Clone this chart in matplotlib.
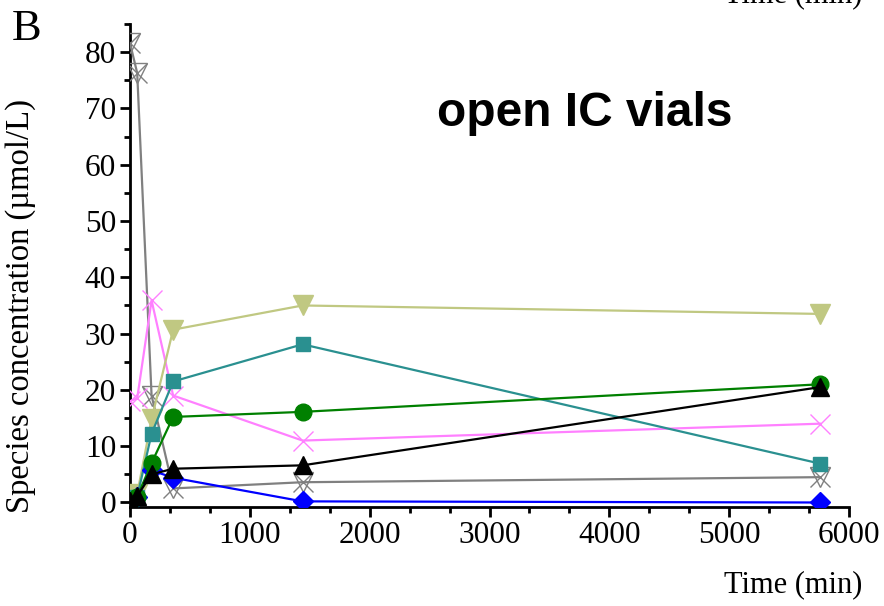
import matplotlib
matplotlib.use("Agg")
import matplotlib.pyplot as plt
from matplotlib.ticker import MultipleLocator

time_min = [0, 60, 180, 360, 1440, 5760]
gray_star = [81.6, 76.3, 19.0, 2.5, 3.6, 4.5]
khaki_tri_down = [0.5, 1.5, 14.8, 30.7, 35.0, 33.5]
teal_square = [0.0, 1.0, 12.2, 21.5, 28.1, 6.9]
green_circle = [0.0, 1.0, 7.0, 15.2, 16.1, 21.0]
pink_x = [18.0, 18.5, 35.9, 19.0, 11.0, 14.0]
blue_diamond = [0.0, 1.0, 5.7, 4.4, 0.2, 0.0]
black_tri_up = [0.3, 1.2, 5.0, 6.0, 6.6, 20.5]

xticks = [0, 1000, 2000, 3000, 4000, 5000, 6000]
yticks = [0, 10, 20, 30, 40, 50, 60, 70, 80]

serif = ["Liberation Serif", "DejaVu Serif"]
plt.rcParams["font.family"] = serif

fig = plt.figure(figsize=(8.84, 6.06), dpi=100)
ax = fig.add_axes([130 / 884, 99 / 606, (849 - 130) / 884, (507 - 24) / 606])

lw = 1.6
# gray: x + open triangle-down combined
ax.plot(time_min, gray_star, color="#808080", lw=lw, marker="x", ms=14, mew=1.0, zorder=3)
ax.plot(time_min, gray_star, color="#808080", lw=0, marker="v", ms=14, mfc="none", mew=1.0, zorder=3)
ax.plot(time_min, pink_x, color="#FF80FF", lw=lw, marker="x", ms=15, mew=1.0, zorder=3)
ax.plot(time_min, khaki_tri_down, color="#C0C882", lw=lw, marker="v", ms=14, zorder=3)
ax.plot(time_min, teal_square, color="#2A9090", lw=lw, marker="s", ms=10, zorder=3)
ax.plot(time_min, green_circle, color="#008000", lw=lw, marker="o", ms=12, zorder=4)
ax.plot(time_min, blue_diamond, color="#0000FF", lw=lw, marker="D", ms=10, zorder=3)
ax.plot(time_min, black_tri_up, color="#000000", lw=lw, marker="^", ms=13, zorder=5)

ax.set_xlim(0, 6000)
ax.set_ylim(-0.8, 85)
ax.set_xticks(xticks)
ax.set_yticks(yticks)
ax.xaxis.set_minor_locator(MultipleLocator(1000 / 3))
ax.yaxis.set_minor_locator(MultipleLocator(5))

for s in ["top", "right"]:
    ax.spines[s].set_visible(False)
for s in ["left", "bottom"]:
    ax.spines[s].set_linewidth(2.0)

ax.tick_params(which="major", direction="out", length=7, width=2.0, labelsize=22.5, pad=3)
ax.tick_params(which="minor", direction="out", length=4, width=2.0)

ax.set_ylabel("Species concentration (\u00b5mol/L)", fontsize=23.5)
ax.yaxis.set_label_coords(-(130 - 36) / (849 - 130), (507 - 306) / (507 - 24))

fig.text(862 / 884, 1 - 585 / 606, "Time (min)", fontsize=22, ha="right", va="center")
fig.text(862 / 884, 1 + 5 / 606, "Time (min)", fontsize=22, ha="right", va="center")
fig.text(12 / 884, 1 - 29 / 606, "B", fontsize=32, ha="left", va="center")
fig.text(585 / 884, 1 - 113 / 606, "open IC vials",
         fontsize=34.5, fontweight="bold", family=["Liberation Sans", "DejaVu Sans"],
         ha="center", va="center")

fig.savefig("out.png", dpi=100)
